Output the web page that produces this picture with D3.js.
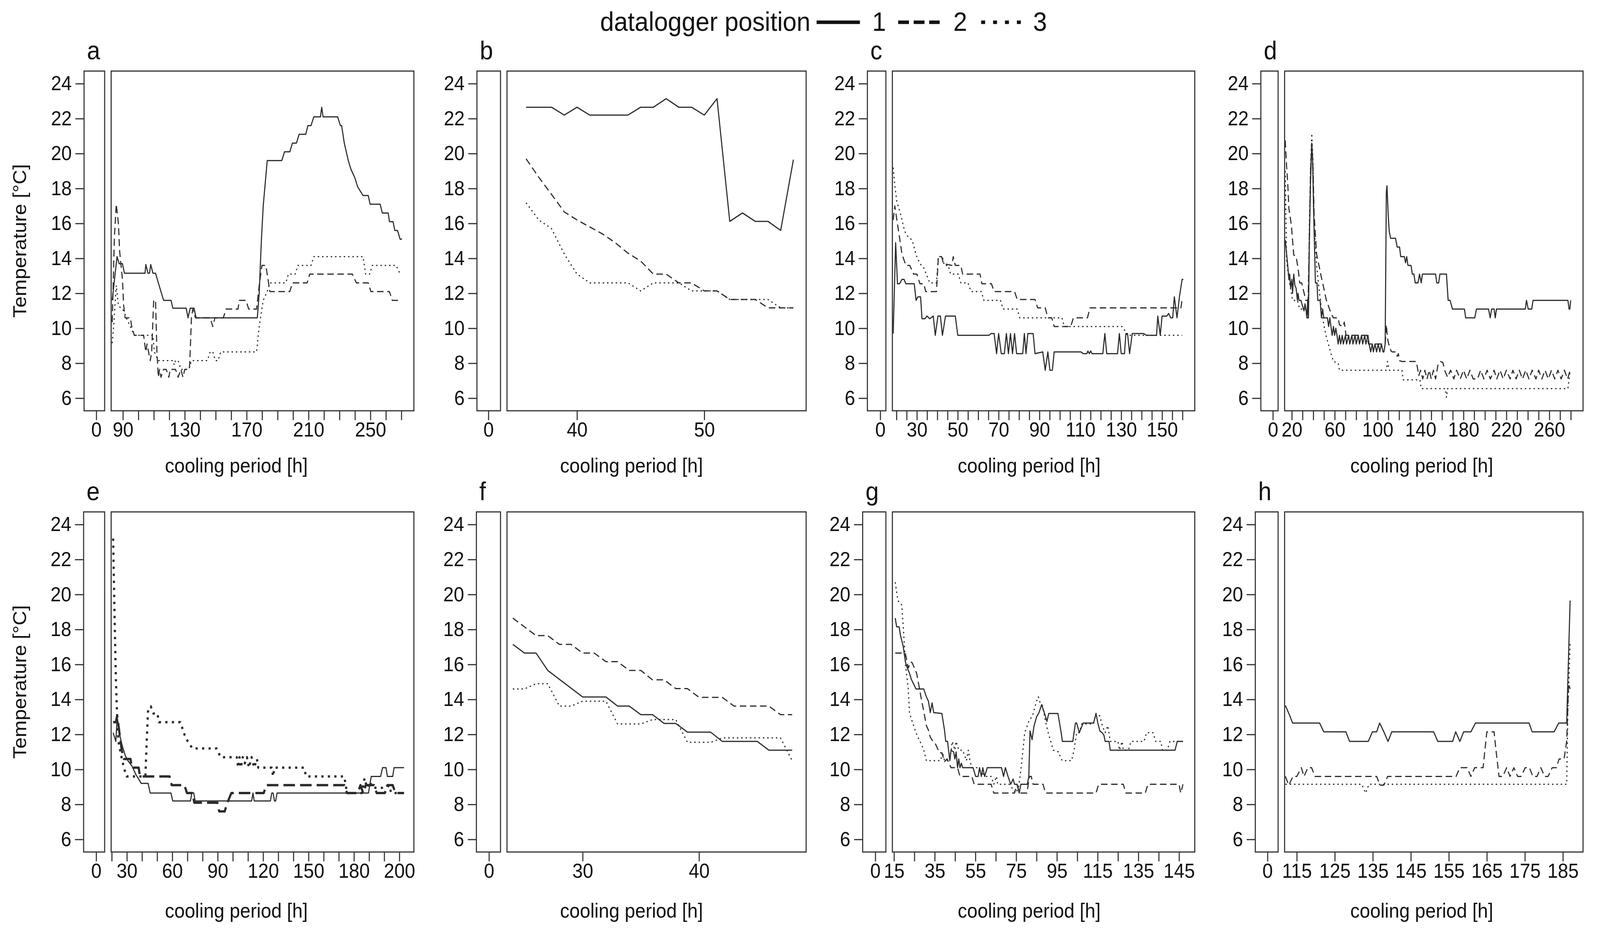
<!DOCTYPE html>
<html>
<head>
<meta charset="utf-8">
<script src="https://d3js.org/d3.v7.min.js"></script>
<style>
  html, body { margin: 0; padding: 0; background: #fff; overflow: hidden; }
  #chart { display: block; width: 100vw; height: 100vh; }
  svg text { font-family: "Liberation Sans", Arial, Helvetica, sans-serif; fill: #111; }
</style>
</head>
<body>
<svg id="chart" viewBox="0 0 4434 2392" preserveAspectRatio="none"></svg>
<script>
// ---- data (hours, °C) ----
const tempTicks = [6, 8, 10, 12, 14, 16, 18, 20, 22, 24];
const loggerNames = ["1", "2", "3"];
const panelLetters = ["a", "b", "c", "d", "e", "f", "g", "h"];

const a1 = [[83.1,11.6],[86.2,14.1],[87.6,13.7],[89.7,13.7],[91,13.15],[104.3,13.15],[104.8,13.65],[106.2,13.15],[107.2,13.15],[108,13.65],[109.4,13.15],[111.1,13.15],[112.9,12.6],[114.6,12.1],[116.3,11.6],[121.1,11.6],[122.3,11.15],[130.9,11.15],[132.1,10.6],[133.5,11.15],[136,11.15],[137.3,10.6],[176.9,10.6],[178.1,12],[179.5,15],[180.7,17],[183.3,19.6],[192.7,19.6],[194.5,20.1],[197.9,20.1],[199.6,20.6],[202.2,20.6],[203.9,21.1],[208.2,21.1],[209.6,21.6],[211.6,21.6],[213.4,22.1],[217.7,22.1],[218.5,22.65],[219.4,22.1],[228.8,22.1],[230.6,21.6],[231.4,21.6],[233.1,20.6],[235.7,19.6],[237.4,19.1],[240,18.6],[241.7,18.1],[245.2,17.6],[248.6,17.6],[249.8,17.1],[256.3,17.1],[257.7,16.6],[261.5,16.6],[262.3,16.1],[264.6,16.1],[265.8,15.6],[267.5,15.6],[269.2,15.1],[270.4,15.1]];
const a2 = [[83.1,10.35],[84.5,15.2],[85.7,17.1],[87.1,16],[87.9,14.4],[89.7,12.8],[90.5,11.3],[91.4,10.6],[94.8,10.6],[95.7,10.1],[97.4,9.6],[103.4,9.6],[104.8,8.65],[105.6,9.1],[107.7,8.15],[108.6,8.65],[109.9,11.6],[111.1,11.6],[112,8.65],[112.9,7.2],[113.7,7.65],[114.6,7.2],[116.3,7.65],[118,7.65],[119.7,7.2],[120.6,7.65],[124,7.65],[125.7,7.2],[127.5,7.65],[128.8,7.2],[130,7.65],[133,7.65],[133.5,8.65],[134.3,10.6],[135.2,11.1],[136.9,10.6],[146.4,10.6],[148.1,10.1],[149.5,10.6],[154.9,10.6],[156.7,11.1],[164.4,11.1],[165.3,11.6],[169.6,11.6],[171.3,11.1],[176.4,11.1],[178.1,12.45],[179.9,13.6],[182.4,13.6],[185,12.1],[197.9,12.1],[199.6,12.6],[209.1,12.6],[210.8,13.1],[238.3,13.1],[240.9,12.6],[248.6,12.6],[250.3,12.1],[262.3,12.1],[264.1,11.6],[268.3,11.6]];
const a3 = [[83.1,9.15],[84.2,10.35],[85.7,12.45],[87.1,11.3],[88.8,11.15],[90.5,11],[92.2,10.6],[94.8,10.1],[97.4,9.6],[109.4,9.6],[110.3,8.65],[112.9,8.15],[122.3,8.15],[123.2,7.9],[124,8.15],[125.7,8.15],[127.5,7.65],[132.6,7.65],[134.3,8.15],[144.6,8.15],[146.4,8.65],[148.1,8.65],[149.8,8.15],[151.5,8.15],[153.2,8.65],[176.4,8.65],[178.1,10.1],[180.7,11.6],[183.3,12.1],[185,12.6],[195.3,12.6],[197,13.1],[201.3,13.1],[203.1,13.6],[211.6,13.6],[213.4,14.1],[245.2,14.1],[246.9,13.1],[249.5,13.1],[251.2,13.6],[266.6,13.6],[269.2,13.1],[270,13.1]];

const b1 = [[36,22.65],[37,22.65],[38,22.65],[39,22.2],[40,22.65],[41,22.2],[42,22.2],[43,22.2],[44,22.2],[45,22.65],[46,22.65],[47,23.14],[48,22.65],[49,22.65],[50,22.2],[51,23.14],[52,16.12],[53,16.6],[54,16.12],[55,16.12],[56,15.6],[57,19.65]];
const b2 = [[36,19.7],[37,18.64],[38,17.66],[39,16.66],[40,16.2],[41,15.8],[42,15.4],[43,14.9],[44,14.3],[45,13.85],[46,13.1],[47,13.1],[48,12.6],[49,12.6],[50,12.14],[51,12.14],[52,11.65],[53,11.65],[54,11.65],[55,11.17],[56,11.17],[57,11.17]];
const b3 = [[36,17.18],[37,16.2],[38,15.7],[39,14.25],[40,13.1],[41,12.6],[42,12.6],[43,12.6],[44,12.6],[45,12.14],[46,12.6],[47,12.6],[48,12.6],[49,12.14],[50,12.14],[51,12.14],[52,11.65],[53,11.65],[54,11.65],[55,11.65],[56,11.17],[57,11.17]];

const c1 = [[18.4,9.7],[19.6,14.9],[20.5,12.55],[21.5,12.55],[22.7,12.8],[23.7,12.8],[24.6,12.55],[28.7,12.55],[29.6,11.6],[30.5,11.8],[31.8,11.8],[32.5,10.55],[34,10.55],[34.9,10.7],[36.3,10.55],[38,10.7],[39,9.6],[40.3,10.7],[41.5,10.7],[42.5,9.6],[44,10.7],[48.8,10.7],[50,9.6],[65.3,9.6],[66.3,9.7],[67.8,9.7],[69,8.55],[70,9.7],[71.3,8.55],[72.8,8.55],[73.8,9.7],[74.8,8.55],[75.8,9.7],[76.8,8.55],[77.8,9.7],[78.8,8.55],[81.8,8.55],[82.6,9.7],[83.4,8.55],[84.3,9.7],[86.9,9.7],[87.8,8.55],[91.6,8.65],[92.8,7.6],[94.1,8.65],[95.1,7.6],[96.3,7.6],[97.2,8.65],[110.3,8.65],[111.4,8.55],[113.2,8.55],[113.7,8.7],[114.4,8.55],[115.1,8.7],[115.7,8.55],[121,8.55],[122,9.7],[122.9,8.55],[128.2,8.55],[129.1,9.7],[130,8.55],[131.6,8.55],[132.3,9.7],[133.1,9.7],[134.1,8.55],[135.4,9.7],[141,9.7],[142.3,9.6],[147.3,9.6],[147.9,10.7],[149.1,9.6],[150,10.7],[152.3,10.7],[153.2,10.85],[154.2,10.6],[155.2,10.6],[156,11.8],[157.3,10.6],[158.5,11.8],[159.8,12.8],[160.4,12.8]];
const c2 = [[18.4,16.2],[19.2,17],[20.2,16.2],[21.5,15.2],[22.7,14.25],[24.6,13.6],[26.5,13.6],[28.4,13.1],[30,13.1],[31.5,12.55],[33.4,12.55],[34.3,12.1],[39.6,12.1],[40.5,14.1],[42.1,14.1],[43,13.7],[47.1,13.6],[47.8,14.1],[48.8,13.6],[51.5,13.6],[52.4,13.1],[60.9,13.1],[61.8,12.55],[66.5,12.55],[67.8,12.1],[77.8,12.1],[79.1,11.65],[87.8,11.65],[89.1,11.17],[92.8,11.17],[94.1,10.6],[96,10.6],[97.2,10.1],[105.3,10.1],[106.6,10.6],[113.5,10.6],[114.7,11.17],[159.2,11.17],[159.8,11.65],[160.4,11.65]];
const c3 = [[18.4,19.2],[19.2,18.15],[20.2,17.25],[22.1,16.5],[24,15.55],[25.9,15.2],[27.7,15.05],[29.6,14.2],[31.5,13.7],[33.4,13.45],[34.6,13.1],[36.3,12.6],[39.6,12.6],[40.5,14.1],[42.5,14.1],[43.4,13.6],[45.3,13.6],[46.5,13.1],[50.3,13.1],[51.5,12.6],[55,12.6],[56.5,12.1],[61.5,12.1],[62.8,11.6],[70.9,11.6],[72.2,11.1],[79.1,11.1],[80.3,10.6],[101,10.6],[102.2,10.1],[130.4,10.1],[131.9,9.85],[132.9,9.6],[159.8,9.6]];

const d1 = [[13.9,15.05],[16.2,13.6],[17.3,12.8],[18,13.1],[18.9,12.3],[20,12.8],[20.7,12],[21.8,13.1],[22.9,12.45],[24,12.3],[25.2,11.6],[25.8,12],[26.7,11.6],[28.5,11.6],[30.1,11.25],[31.4,11],[32.3,11.4],[33.4,11],[34.1,10.6],[34.8,11.65],[35.5,10.6],[36.4,15.2],[37.5,18.5],[38.6,20.6],[39.3,19.8],[40.4,16.5],[42,12.6],[43.5,12.6],[44.2,11.6],[46.4,11.6],[47.6,10.6],[48.7,11.1],[49.8,10.6],[53.2,10.6],[54.3,10.1],[55.4,10.6],[56.5,10.1],[57.6,9.6],[58.8,10.1],[59.9,9.6],[61,10],[62.1,9.6],[63.2,9.1],[64.4,9.6],[65.5,9.1],[67,9.6],[68,9.1],[70,9.6],[71,9.1],[73,9.6],[74,9.1],[76,9.6],[77,9.1],[79,9.6],[80,9.1],[82,9.6],[83,9.1],[85,9.6],[86,9.1],[88,9.6],[89,9.1],[91,9.6],[92,9.1],[93.5,8.65],[95,9.1],[96,8.65],[97.5,9.1],[99,8.65],[100.5,9.1],[102,8.65],[103.5,9.1],[105,8.65],[105.8,8.65],[107,9.1],[108.1,17.8],[108.7,18.15],[109.9,16.4],[110.8,15.55],[112.1,15.15],[116.6,15.15],[118.2,14.65],[120.4,14.65],[121.5,14.1],[124.9,14.1],[126,13.75],[127.1,14.1],[128.2,13.6],[131.1,13.6],[132.3,13.1],[133.8,13.1],[135,12.6],[137.6,12.6],[139,13.1],[140.6,12.6],[141.7,13.1],[154,13.1],[155.1,12.6],[156.9,12.6],[158,13.1],[164.1,13.1],[165.7,11.6],[167.5,11.6],[169.7,11.1],[180.9,11.1],[182,10.6],[190.5,10.6],[192.1,11.1],[203.3,11.1],[204.9,10.6],[206.2,11.1],[208.5,11.1],[209.6,10.6],[210.7,11.1],[237.6,11.1],[238.7,11.6],[240.3,11.1],[243.6,11.1],[244.8,11.6],[277.3,11.6],[278.4,11.1],[279.1,11.1],[279.9,11.6]];
const d2 = [[13.9,20.75],[15.1,19.3],[16.2,18.3],[17.3,16.85],[19.6,15.9],[21.8,14.2],[24,14.1],[25.8,13.45],[27.4,12.6],[29.2,12.6],[30.3,12.3],[31.9,11.9],[33,11.6],[35.2,11.6],[36.4,15.2],[37.5,19.1],[38.6,20.4],[39.7,19.3],[40.8,16.5],[43.1,14.25],[45.3,13.6],[47.6,12.9],[49.8,12.3],[52,11.65],[54.3,11.25],[56.5,10.85],[58.8,10.6],[63.2,10.6],[64.4,10.2],[67.7,10.1],[68.9,10.35],[70.5,9.6],[90,9.6],[91.5,9.1],[107,9.1],[108.1,10.2],[109.2,9.4],[110.3,9.1],[112.5,8.7],[113.7,8.65],[117,8.65],[118.2,8.4],[119.3,8.55],[120.4,8.15],[122.6,8.1],[136.1,8.1],[137.2,7.7],[138.3,7.3],[140,7.6],[142,7.1],[144,7.6],[146,7.1],[148,7.6],[150,7.1],[152,7.6],[154,7.1],[156.2,7.9],[158.5,8.1],[160.7,8.05],[163,7.5],[165.2,7.2],[168,7.6],[171,7.1],[173.5,7.6],[177,7.1],[180,7.6],[183,7.1],[186,7.6],[189,7.1],[193,7.1],[196,7.6],[199,7.1],[202,7.6],[205,7.1],[208.5,7.6],[211,7.1],[214,7.6],[217,7.1],[220,7.6],[223.5,7.1],[226,7.6],[229,7.1],[232,7.6],[235,7.1],[238,7.6],[241,7.1],[244,7.6],[247.5,7.1],[250,7.6],[253,7.1],[256,7.6],[259,7.1],[262,7.6],[265,7.1],[268,7.6],[271,7.1],[274,7.6],[277,7.1],[279.4,7.6]];
const d3v = [[13.9,19],[15.1,13.9],[17.3,12.8],[19.6,12],[20.7,11.6],[25.2,11.6],[27.4,11.1],[33,11.1],[34.1,10.6],[35.2,10.6],[36.4,16],[37.5,19.3],[38.6,21.15],[39.7,19.6],[40.8,15.9],[43.1,13.6],[45.3,12.3],[47.6,11.1],[49.8,10.2],[52,9.55],[54.3,9.05],[56.5,8.55],[58.8,8.1],[63.2,8],[64.4,7.6],[108.1,7.6],[109.2,8.1],[110.8,7.6],[122.6,7.6],[123.8,7.05],[139.4,7.05],[140.6,6.55],[163,6.55],[164.1,6.05],[165.2,6.55],[277.3,6.55],[278.4,7.1],[279.5,7.6]];

const e1 = [[20.9,12.1],[22.7,11.6],[23.6,13],[24.4,12.5],[25.3,11.95],[27.1,11.3],[28.9,10.8],[30.7,10.5],[33.3,10.2],[36,9.7],[37.8,9.45],[39.5,9.2],[44,9.2],[45.4,8.65],[59.1,8.65],[60.3,8.2],[72,8.2],[72.9,8.65],[74.2,8.65],[75.1,8.2],[112.4,8.2],[113.3,8.65],[114.1,8.2],[124.8,8.2],[125.7,8.65],[126.6,8.65],[127.5,8.2],[128.3,8.2],[129.2,8.65],[189.6,8.65],[191.4,9.6],[197.6,9.6],[198.9,10.1],[201.2,10.1],[202.1,9.6],[205.6,9.6],[206.5,10.1],[213.1,10.1]];
const e2 = [[20.9,12.7],[22.7,12.7],[23.6,13.1],[25.3,11.95],[26.6,11.1],[28,10.6],[32.4,10.6],[33.3,10.1],[37.8,10.1],[38.6,9.6],[58.2,9.6],[59.6,9.1],[68,9.1],[69.7,8.65],[73.3,8.65],[74.5,8.1],[89.8,8.1],[91,7.6],[94.6,7.6],[96.4,8.1],[99,8.65],[120.4,8.65],[122.1,9.1],[173.6,9.1],[175.4,8.65],[182.5,8.65],[184.3,9.1],[186.1,8.65],[187.8,9.1],[193.2,9.1],[195,8.65],[200.3,8.65],[202.1,9.1],[205.6,9.1],[207.4,8.65],[213.1,8.65]];
const e3 = [[20.9,23.2],[21.8,19.05],[22.7,15.25],[23.6,12.9],[24.4,11.6],[26.2,10.8],[28,10.1],[29.8,9.6],[42.2,9.6],[43.1,11.6],[44,13.4],[45.8,13.6],[47.5,13.2],[50.2,13.2],[51.1,12.7],[65.3,12.7],[68.8,11.8],[73.3,11.2],[89.3,11.2],[91.9,10.7],[102.6,10.7],[103.5,10.1],[104.4,10.7],[105.3,10.1],[106.5,10.7],[107.9,10.35],[109.3,10.7],[110.6,10.1],[112.4,10.7],[114.1,10.1],[115.9,10.6],[116.8,10.1],[125.7,10.1],[126.6,9.6],[127.5,10.1],[147,10.1],[148.4,9.6],[173.6,9.6],[175.4,8.65],[185.2,8.65],[187,9.5],[188.7,8.95],[190.5,9.3],[192.3,8.95],[198.5,8.95],[200.3,8.65],[203,9.1],[204.7,8.65],[213.1,8.65]];

const f1 = [[24,17.15],[25,16.65],[26,16.65],[27,15.66],[28,15.15],[29,14.65],[30,14.14],[31,14.14],[32,14.14],[33,13.62],[34,13.62],[35,13.13],[36,13.13],[37,12.63],[38,12.63],[39,12.13],[40,12.13],[41,12.13],[42,11.6],[43,11.6],[44,11.6],[45,11.6],[46,11.1],[47,11.1],[48,11.1]];
const f2 = [[24,18.65],[25,18.15],[26,17.65],[27,17.65],[28,17.15],[29,17.15],[30,16.65],[31,16.65],[32,16.16],[33,16.16],[34,15.66],[35,15.66],[36,15.12],[37,15.12],[38,14.62],[39,14.62],[40,14.12],[41,14.12],[42,14.12],[43,13.62],[44,13.62],[45,13.62],[46,13.62],[47,13.13],[48,13.13]];
const f3 = [[24,14.6],[25,14.6],[26,14.9],[27,14.9],[28,13.62],[29,13.62],[30,13.9],[31,13.9],[32,13.9],[33,12.6],[34,12.6],[35,12.6],[36,12.85],[37,12.85],[38,12.85],[39,11.55],[40,11.55],[41,11.55],[42,11.8],[43,11.8],[44,11.8],[45,11.8],[46,11.8],[47,11.8],[48,10.5]];

const g1 = [[15.6,18.65],[16.3,18.15],[17.5,18.15],[18.2,17.65],[19.5,17.05],[20.1,16.55],[20.7,16.1],[21.7,15.75],[22.6,15.5],[23.5,15.15],[25.2,14.75],[25.8,14.6],[29.6,14.6],[30.9,14.15],[31.9,13.9],[32.8,13.25],[33.7,13.8],[34.5,13.25],[38.5,13.2],[39.8,12.25],[40.4,11.6],[41.3,11.6],[42.4,10.5],[43,11.1],[44.3,11],[44.9,10.6],[45.5,11],[46.2,10.1],[46.8,10.6],[47.4,10.1],[48.1,10.35],[48.7,10.1],[53.8,10.1],[55.1,9.6],[56.3,9.6],[57,10.1],[57.9,9.6],[58.6,10.1],[59.5,9.6],[60.8,10.1],[67.8,10.1],[68.8,9.6],[69.7,10.1],[71,9.6],[72.3,9.15],[73.5,9.45],[74.2,9.15],[75.4,9.15],[76.5,8.65],[77.3,9.15],[80.5,9.15],[81.2,9.6],[81.8,12.2],[82.8,11.7],[83.7,12.45],[85,13],[86.2,13.25],[87.5,13.7],[88.8,13.25],[90.1,12.75],[91,13.2],[95.5,13.2],[97.1,12.1],[97.7,11.6],[102.8,11.6],[104.1,12.65],[104.7,12.65],[106,12.1],[107.9,12.65],[113,12.65],[114.2,13.2],[115.1,12.65],[116.1,12.2],[117.2,12.1],[118.1,11.95],[118.7,11.6],[120.6,11.6],[121.2,11.1],[153,11.1],[154.1,11.6],[156.9,11.6]];
const g2 = [[15.6,16.65],[20.5,16.65],[21,16.4],[22,15.8],[23.3,16.15],[23.9,16.1],[25.2,15.75],[26.1,15.5],[27.7,14.5],[28.6,13.9],[29.4,13.45],[30.9,12.5],[31.9,12.25],[32.8,11.85],[34.1,11.6],[35.4,11.45],[37.3,10.95],[38.5,10.95],[39.8,10.45],[41.1,10.6],[43,10.1],[46.2,10.1],[47.4,9.6],[53.2,9.6],[54.4,9.15],[62.7,9.15],[64,8.65],[74.2,8.65],[75.4,9.15],[76.7,8.65],[80.3,8.65],[81.5,9.6],[82.4,9.6],[83.3,9.15],[88.2,9.15],[89.4,8.65],[114.2,8.65],[115.5,9.15],[127.6,9.15],[128.9,8.65],[138.4,8.65],[139.7,9.15],[155,9.15],[155.8,8.65],[156.9,9.15]];
const g3 = [[15.6,20.7],[16.9,19.65],[18.8,19.4],[19.5,18.25],[20.7,15.9],[22,14.6],[22.6,13.25],[23.9,12.75],[25.8,12.1],[27.1,11.75],[28.4,11.45],[29.6,11.1],[30.9,10.5],[37.9,10.5],[38.8,11],[39.8,10.5],[42.4,10.5],[43.6,11.6],[44.9,11.1],[45.5,11.6],[46.8,11.1],[48.7,11.1],[50.6,10.5],[51.5,11.1],[52.3,10.5],[53.2,10.1],[55.7,10.1],[57.6,9.85],[60.2,9.6],[62.7,9.6],[64,9.15],[65.3,9.6],[65.9,9.15],[71.6,9.15],[72.9,8.95],[74.8,8.65],[76.1,8.95],[77.3,9.95],[79.2,12.1],[81.2,12.75],[83.1,13.1],[85,13.9],[85.9,14.15],[86.9,13.75],[87.9,13.65],[89.4,12.75],[90.7,12.1],[92,11.6],[93.2,11.1],[95.8,11],[97.1,10.6],[97.7,10.5],[102.2,10.5],[103.4,11.1],[104.7,12.1],[106,12.1],[107.2,12.6],[113,12.6],[114.2,13.2],[116.1,13.05],[117.4,12.45],[118.7,12.1],[120,12.5],[121.2,11.6],[125,11.6],[125.7,11.1],[127,11.6],[127.6,11.1],[130.1,11.1],[131.4,11.6],[137.8,11.6],[139,12.1],[142.2,12.1],[143.5,11.6],[146,11.6],[146.9,11.1],[149.2,11.1],[150.5,11.6],[156.9,11.6]];

const h1 = [[112,13.65],[113.1,13.1],[113.9,12.65],[121,12.65],[122.1,12.15],[127.9,12.15],[128.9,11.6],[133.8,11.6],[134.9,12.15],[136,12.15],[136.8,12.65],[137.9,12.15],[139,11.6],[140,12.15],[151,12.15],[152.1,11.6],[156,11.6],[156.8,12.15],[157.9,11.6],[158.9,12.15],[160.8,12.15],[162,12.65],[176.1,12.65],[176.9,12.15],[182.7,12.15],[183.9,12.65],[186,12.65],[186.9,19.65]];
const h2 = [[112,9.6],[112.9,9.1],[114,9.6],[115,9.6],[116.2,10.1],[116.9,9.6],[117.9,10.1],[118.9,10.1],[119.8,9.6],[136,9.6],[136.9,9.1],[137.9,9.1],[138.9,9.6],[156.9,9.6],[157.9,10.1],[159.8,10.1],[160.8,9.6],[161.8,10.1],[164,10.1],[165,12.15],[166.9,12.15],[167.4,11.1],[168.2,9.6],[169.2,9.6],[170.2,10.1],[171.1,9.6],[172.1,10.1],[173.1,9.6],[174,9.6],[175.1,10.1],[176.2,10.1],[177.1,9.6],[178.2,9.6],[179.2,10.1],[180.2,9.6],[181.1,9.6],[182.2,10.1],[183.3,10.1],[184,10.6],[185.3,10.6],[186,11.6],[186.5,14.9],[186.9,14.6]];
const h3 = [[112,9.15],[132.1,9.15],[133.1,8.65],[134,9.15],[186,9.15],[186.3,13.25],[186.9,17.25]];

// x axis per panel: main domain, domain of the small box left of the break, ticks and labels
const xMainDomains = [[82.4,278.1],[34.5,58.0],[18.0,166.0],[13.3,291.4],[19.6,219.6],[23.5,49.2],[14.2,162.7],[111.8,190.3]];
const xGapDomains = [[-7.9,5.4],[-0.9,0.95],[-6.3,2.75],[-11.2,4.9],[-8.3,5.6],[-1.08,0.99],[-6.2,5.2],[-3.2,2.8]];
const tickSteps = [[90,270,10],[40,50,10],[20,160,5],[20,280,10],[20,210,10],[30,40,10],[15,155,10],[115,185,10]];
const labelAt = [
  [90,130,170,210,250],
  [40,50],
  [30,50,70,90,110,130,150],
  [20,60,100,140,180,220,260],
  [30,60,90,120,150,180,210],
  [30,40],
  [15,35,55,75,95,115,135,155],
  [115,125,135,145,155,165,175,185]
];
const labelText = [
  ["90","130","170","210","250"],
  ["40","50"],
  ["30","50","70","90","110","130","150"],
  ["20","60","100","140","180","220","260"],
  ["30","60","90","120","150","180","200"],
  ["30","40"],
  ["15","35","55","75","95","115","135","145"],
  ["115","125","135","145","155","165","175","185"]
];

const panelSeries = [[a1,a2,a3],[b1,b2,b3],[c1,c2,c3],[d1,d2,d3v],[e1,e2,e3],[f1,f2,f3],[g1,g2,g3],[h1,h2,h3]];

// ---- layout ----
const colLeft = [308, 1405, 2473, 3560];
const colRight = [1147, 2234, 3311, 4387];
const titleCenter = [655, 1750, 2852, 3940];
const rowTop = [182, 1311];
const rowBottom = [1052, 2182];
const titleOffset = [158, 168];
const gapPx = 18;
const fontSize = 52;
const ink = "#2b2b2b";

const dashes = ["none", "18,10", "4,8"];

const svg = d3.select("#chart");

panelLetters.forEach((letter, i) => {
  const col = i % 4, row = Math.floor(i / 4);
  const L = colLeft[col], R = colRight[col];
  const top = rowTop[row], bottom = rowBottom[row];

  const x = d3.scaleLinear().domain(xMainDomains[i]).range([L, R]);
  const pxPerUnit = (R - L) / (xMainDomains[i][1] - xMainDomains[i][0]);
  const gd = xGapDomains[i];
  const gapRight = L - gapPx;
  const gapLeft = gapRight - (gd[1] - gd[0]) * pxPerUnit;
  const xg = d3.scaleLinear().domain(gd).range([gapLeft, gapRight]);
  const y = d3.scaleLinear().domain([5.28, 24.72]).range([bottom, top]);

  const g = svg.append("g").attr("class", "panel-" + letter);

  // clip for the lines
  g.append("clipPath").attr("id", "clip-" + letter)
    .append("rect").attr("x", L).attr("y", top).attr("width", R - L).attr("height", bottom - top);

  // series
  const line = d3.line().x(d => x(d[0])).y(d => y(d[1]));
  const linesG = g.append("g").attr("clip-path", `url(#clip-${letter})`);
  panelSeries[i].forEach((s, k) => {
    const bold = letter === "e" && k > 0;
    linesG.append("path")
      .datum(s)
      .attr("fill", "none")
      .attr("stroke", ink)
      .attr("stroke-width", bold ? 6 : 3)
      .attr("stroke-linejoin", "round")
      .attr("stroke-dasharray", bold ? (k === 1 ? "32,14" : "6,12") : dashes[k])
      .attr("d", line);
  });

  // boxes
  g.append("rect").attr("x", L).attr("y", top).attr("width", R - L).attr("height", bottom - top)
    .attr("fill", "none").attr("stroke", "#333").attr("stroke-width", 3);
  g.append("rect").attr("x", gapLeft).attr("y", top).attr("width", gapRight - gapLeft).attr("height", bottom - top)
    .attr("fill", "none").attr("stroke", "#333").attr("stroke-width", 3);

  // y axis
  const yAxis = g.append("g")
    .attr("transform", `translate(${gapLeft},0)`)
    .call(d3.axisLeft(y).tickValues(tempTicks).tickSize(24).tickPadding(10))
    .call(a => a.select(".domain").remove());

  // x axis, main part
  const ts = tickSteps[i];
  const xAxis = g.append("g")
    .attr("transform", `translate(0,${bottom})`)
    .call(d3.axisBottom(x)
      .tickValues(d3.range(ts[0], ts[1] + 0.001, ts[2]))
      .tickSize(24).tickPadding(5)
      .tickFormat(v => {
        const idx = labelAt[i].indexOf(v);
        return idx >= 0 ? labelText[i][idx] : "";
      }))
    .call(a => a.select(".domain").remove());

  // x axis, part left of the break
  const xGapAxis = g.append("g")
    .attr("transform", `translate(0,${bottom})`)
    .call(d3.axisBottom(xg).tickValues([0]).tickSize(24).tickPadding(5).tickFormat(d3.format("d")))
    .call(a => a.select(".domain").remove());

  [yAxis, xAxis, xGapAxis].forEach(a => {
    a.selectAll("line").attr("stroke", "#333").attr("stroke-width", 3);
    a.selectAll("text").attr("font-size", fontSize).attr("font-family", null).attr("fill", "#111");
  });

  // panel letter
  g.append("text")
    .attr("x", gapLeft + 8).attr("y", top - 30)
    .attr("font-size", 66)
    .text(letter);

  // x title
  g.append("text")
    .attr("x", titleCenter[col]).attr("y", bottom + titleOffset[row])
    .attr("text-anchor", "middle")
    .attr("font-size", fontSize)
    .text("cooling period [h]");

  if (col === 0) {
    g.append("text")
      .attr("transform", `translate(55,${(top + bottom) / 2}) rotate(-90)`)
      .attr("text-anchor", "middle")
      .attr("dominant-baseline", "central")
      .attr("font-size", fontSize)
      .text("Temperature [°C]");
  }
});

// ---- legend on top ----
const legend = svg.append("g").attr("class", "legend");
legend.append("text").attr("x", 1663).attr("y", 79).attr("font-size", 69).text("datalogger position");
const legendItems = [
  { x0: 2263, x1: 2383, tx: 2417, dash: "none" },
  { x0: 2489, x1: 2604, tx: 2642, dash: "30,13" },
  { x0: 2719, x1: 2830, tx: 2863, dash: "11,22" }
];
legendItems.forEach((it, k) => {
  legend.append("line")
    .attr("x1", it.x0).attr("x2", it.x1).attr("y1", 57).attr("y2", 57)
    .attr("stroke", "#111").attr("stroke-width", 9)
    .attr("stroke-dasharray", it.dash);
  legend.append("text").attr("x", it.tx).attr("y", 79).attr("font-size", 69).text(loggerNames[k]);
});
</script>
</body>
</html>
